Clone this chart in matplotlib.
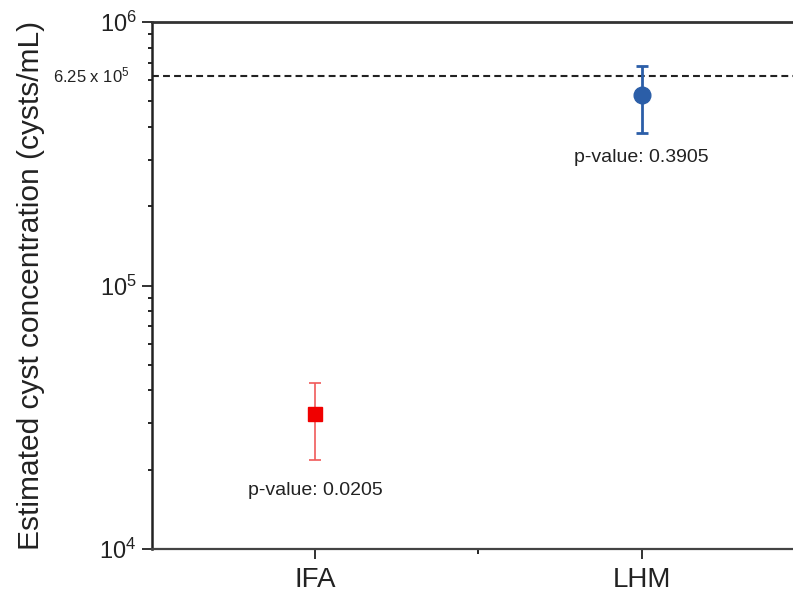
import numpy as np
import matplotlib
matplotlib.use("Agg")
import matplotlib.pyplot as plt

plt.rcParams['font.family'] = ['Liberation Sans', 'DejaVu Sans']
plt.rcParams['mathtext.fontset'] = 'custom'
plt.rcParams['mathtext.rm'] = 'Liberation Sans'
plt.rcParams['mathtext.it'] = 'Liberation Sans:italic'
plt.rcParams['mathtext.bf'] = 'Liberation Sans:bold'

# data
methods = ["IFA", "LHM"]
estimates = [3.25e4, 5.28e5]
upper = [4.28e4, 6.81e5]
lower = [2.18e4, 3.79e5]
p_values = ["p-value: 0.0205", "p-value: 0.3905"]
p_label_y = [1.67e4, 3.05e5]
reference_conc = 6.25e5

fig = plt.figure(figsize=(7.93, 5.95), dpi=100)
ax = fig.add_axes([0.1917, 0.0773, 1.015 - 0.1917, 0.8857])

xpos = np.arange(1, len(methods) + 1)
styles = [
    dict(marker='s', color='#f00000', ecolor='#f05a5a', ms=10, elw=1.2),
    dict(marker='o', color='#2b5ea8', ecolor='#2b5ea8', ms=12, elw=2.0),
]
for i, st in enumerate(styles):
    yerr = [[estimates[i] - lower[i]], [upper[i] - estimates[i]]]
    ax.errorbar(xpos[i], estimates[i], yerr=yerr, fmt=st['marker'],
                color=st['color'], ecolor=st['ecolor'], ms=st['ms'],
                elinewidth=st['elw'], capsize=4.5, capthick=st['elw'], zorder=3)
    ax.text(xpos[i], p_label_y[i], p_values[i], ha='center', va='center',
            fontsize=14, color='#222222')

ax.axhline(reference_conc, color='#222222', lw=1.5, ls=(0, (3.3, 2)), zorder=2)
ax.text(-0.035, reference_conc, r'6.25 x $\mathdefault{10^{5}}$',
        transform=ax.get_yaxis_transform(), ha='right', va='center',
        fontsize=12, color='#222222')

ax.set_yscale('log')
ax.set_ylim(1e4, 1e6)
ax.set_xlim(0.5, 2.5)
ax.set_xticks(xpos)
ax.set_xticklabels(methods)
ax.set_xticks([1.5], minor=True)

ax.tick_params(axis='x', which='major', direction='out', length=7, width=1.3,
               labelsize=20, pad=6, colors='#222222')
ax.tick_params(axis='x', which='minor', direction='out', length=3.5, width=1.2)
ax.tick_params(axis='y', which='major', direction='out', length=7, width=1.3,
               labelsize=17, pad=4, colors='#222222')
ax.tick_params(axis='y', which='minor', direction='out', length=3, width=1.2)

ax.spines['right'].set_visible(False)
ax.spines['left'].set_linewidth(1.8)
ax.spines['left'].set_color('#222222')
ax.spines['top'].set_linewidth(2.0)
ax.spines['top'].set_color('#333333')
ax.spines['bottom'].set_linewidth(1.6)
ax.spines['bottom'].set_color('#444444')

ax.set_ylabel("Estimated cyst concentration (cysts/mL)", fontsize=21.5,
              color='#222222', labelpad=39)

fig.savefig("out.png", dpi=100)
